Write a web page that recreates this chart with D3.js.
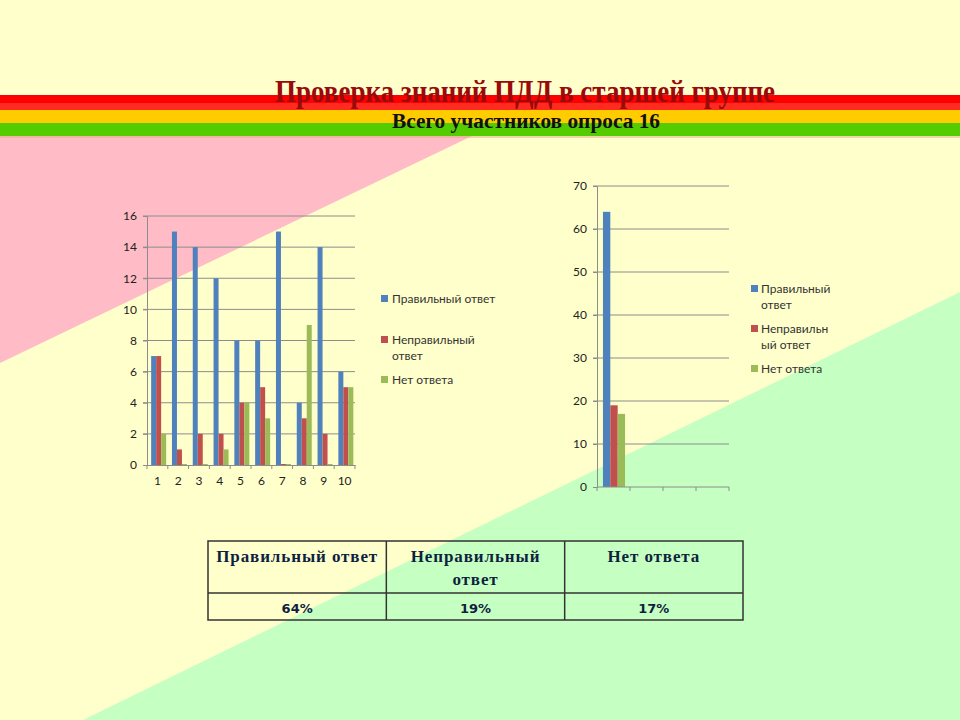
<!DOCTYPE html>
<html lang="ru">
  <head>
    <meta charset="utf-8" />
    <title>Проверка знаний ПДД в старшей группе</title>
    <style>
      body { margin: 0; }
      svg { display: block; }
    </style>
  </head>
  <body>
    <div id="slide"></div>

    <script src="https://d3js.org/d3.v7.min.js"></script>
    <script>
      // data
      const categories = ["1", "2", "3", "4", "5", "6", "7", "8", "9", "10"];
      const seriesNames = ["Правильный ответ", "Неправильный ответ", "Нет ответа"];
      const correct = [7, 15, 14, 12, 8, 8, 15, 4, 14, 6];
      const wrong = [7, 1, 2, 2, 4, 5, 0, 3, 2, 5];
      const noAnswer = [2, 0, 0, 1, 4, 3, 0, 9, 0, 5];
      const leftTicks = [0, 2, 4, 6, 8, 10, 12, 14, 16];

      const totalCategories = ["1", "2", "3", "4"];
      const totalValues = [64, 19, 17];
      const rightTicks = [0, 10, 20, 30, 40, 50, 60, 70];

      const tableHeader = [["Правильный ответ"], ["Неправильный", "ответ"], ["Нет ответа"]];
      const tablePercents = ["64%", "19%", "17%"];

      const colors = ["#4F81BD", "#C0504D", "#9BBB59"];

      const width = 960, height = 720;
      const svg = d3.select("#slide").append("svg")
        .attr("width", width).attr("height", height);

      // background
      svg.append("rect").attr("width", width).attr("height", height).attr("fill", "#FFFFCC");
      svg.append("polygon").attr("points", "0,136 472,136 0,363").attr("fill", "#FFBBC6");
      svg.append("polygon").attr("points", "960,292 960,720 83,720").attr("fill", "#C6FFC2");

      // stripes
      const stripes = [
        [95, 8, "#FF0000"], [103, 7, "#FF2A20"], [110, 13, "#FFCC00"], [123, 13, "#55CC00"]
      ];
      svg.selectAll("rect.stripe").data(stripes).enter().append("rect")
        .attr("class", "stripe")
        .attr("x", 0).attr("y", d => d[0]).attr("width", width).attr("height", d => d[1])
        .attr("fill", d => d[2]);
      svg.append("rect").attr("x", 0).attr("y", 136).attr("width", width).attr("height", 2)
        .attr("fill", "#E0B080").attr("opacity", 0.5);

      // titles (condensed serif, squeezed to the width seen in the picture)
      svg.append("text")
        .attr("x", 275).attr("y", 102)
        .attr("textLength", 500).attr("lengthAdjust", "spacingAndGlyphs")
        .attr("font-family", "Liberation Serif").attr("font-size", 31).attr("font-weight", "bold")
        .attr("fill", "#9A0A0A")
        .text("Проверка знаний ПДД в старшей группе");
      svg.append("text")
        .attr("x", 392).attr("y", 128)
        .attr("textLength", 268).attr("lengthAdjust", "spacingAndGlyphs")
        .attr("font-family", "Liberation Serif").attr("font-size", 20).attr("font-weight", "bold")
        .attr("fill", "#111")
        .text("Всего участников опроса 16");

      const gridColor = "#8C8C8C";
      const labelFont = "Lato";

      // ---------- left chart ----------
      const left = { x0: 147, x1: 355, y0: 465, y1: 216 };
      const xL = d3.scaleBand().domain(categories).range([left.x0, left.x1]);
      const xLSub = d3.scaleBand().domain(seriesNames)
        .range([xL.bandwidth() * 0.2, xL.bandwidth() * 0.92]);
      const yL = d3.scaleLinear().domain([0, 16]).range([left.y0, left.y1]);

      const gL = svg.append("g");
      gL.selectAll("line.grid").data(leftTicks.slice(1)).enter().append("line")
        .attr("x1", left.x0 - 4).attr("x2", left.x1)
        .attr("y1", d => yL(d)).attr("y2", d => yL(d))
        .attr("stroke", gridColor).attr("stroke-width", 1);

      const leftSeries = [correct, wrong, noAnswer];
      leftSeries.forEach((vals, s) => {
        gL.selectAll("rect.s" + s).data(vals).enter().append("rect")
          .attr("class", "s" + s)
          .attr("x", (d, i) => xL(categories[i]) + xLSub(seriesNames[s]))
          .attr("width", xLSub.bandwidth())
          .attr("y", d => yL(d) - (d === 0 ? 1 : 0))
          .attr("height", d => left.y0 - yL(d) + (d === 0 ? 1 : 0))
          .attr("fill", colors[s]);
      });

      gL.append("g")
        .attr("transform", `translate(${left.x0},0)`)
        .call(d3.axisLeft(yL).tickValues(leftTicks).tickSize(4).tickPadding(6))
        .call(g => g.select(".domain").attr("stroke", gridColor))
        .call(g => g.selectAll(".tick line").attr("stroke", gridColor))
        .call(g => g.selectAll("text").attr("font-family", labelFont).attr("font-size", 12).attr("fill", "#222"));

      gL.append("g")
        .attr("transform", `translate(0,${left.y0})`)
        .call(d3.axisBottom(xL).tickSize(0).tickPadding(11))
        .call(g => g.select(".domain").attr("stroke", gridColor))
        .call(g => g.selectAll("text").attr("font-family", labelFont).attr("font-size", 12).attr("fill", "#222"));
      gL.selectAll("line.xtick").data(categories).enter().append("line")
        .attr("x1", d => xL(d)).attr("x2", d => xL(d))
        .attr("y1", left.y0).attr("y2", left.y0 + 4)
        .attr("stroke", gridColor);
      gL.append("line").attr("x1", left.x1).attr("x2", left.x1)
        .attr("y1", left.y0).attr("y2", left.y0 + 4).attr("stroke", gridColor);

      // legend left
      const legendL = [
        { lines: ["Правильный ответ"], y: 299 },
        { lines: ["Неправильный", "ответ"], y: 340 },
        { lines: ["Нет ответа"], y: 380 }
      ];
      legendL.forEach((d, i) => {
        svg.append("rect").attr("x", 381).attr("y", d.y - 4).attr("width", 7).attr("height", 7)
          .attr("fill", colors[i]);
        d.lines.forEach((t, j) => {
          svg.append("text").attr("x", 392).attr("y", d.y + 4 + j * 16)
            .attr("font-family", labelFont).attr("font-size", 12).attr("fill", "#333")
            .text(t);
        });
      });

      // ---------- right chart ----------
      const right = { x0: 597, x1: 729, y0: 487, y1: 186 };
      const xR = d3.scaleBand().domain(totalCategories).range([right.x0, right.x1]);
      const xRSub = d3.scaleBand().domain(seriesNames)
        .range([xR.bandwidth() * 0.18, xR.bandwidth() * 0.85]);
      const yR = d3.scaleLinear().domain([0, 70]).range([right.y0, right.y1]);

      const gR = svg.append("g");
      gR.selectAll("line.grid").data(rightTicks.slice(1)).enter().append("line")
        .attr("x1", right.x0 - 4).attr("x2", right.x1)
        .attr("y1", d => yR(d)).attr("y2", d => yR(d))
        .attr("stroke", gridColor);

      gR.selectAll("rect.total").data(totalValues).enter().append("rect")
        .attr("class", "total")
        .attr("x", (d, i) => xR(totalCategories[0]) + xRSub(seriesNames[i]))
        .attr("width", xRSub.bandwidth())
        .attr("y", d => yR(d))
        .attr("height", d => right.y0 - yR(d))
        .attr("fill", (d, i) => colors[i]);

      gR.append("g")
        .attr("transform", `translate(${right.x0},0)`)
        .call(d3.axisLeft(yR).tickValues(rightTicks).tickSize(4).tickPadding(6))
        .call(g => g.select(".domain").attr("stroke", gridColor))
        .call(g => g.selectAll(".tick line").attr("stroke", gridColor))
        .call(g => g.selectAll("text").attr("font-family", labelFont).attr("font-size", 12).attr("fill", "#222"));

      gR.append("line").attr("x1", right.x0).attr("x2", right.x1)
        .attr("y1", right.y0).attr("y2", right.y0).attr("stroke", gridColor);
      gR.selectAll("line.xtick").data(totalCategories.concat(["end"])).enter().append("line")
        .attr("x1", d => d === "end" ? right.x1 : xR(d))
        .attr("x2", d => d === "end" ? right.x1 : xR(d))
        .attr("y1", right.y0).attr("y2", right.y0 + 4)
        .attr("stroke", gridColor);

      // legend right
      const legendR = [
        { lines: ["Правильный", "ответ"], y: 289 },
        { lines: ["Неправильн", "ый ответ"], y: 329 },
        { lines: ["Нет ответа"], y: 369 }
      ];
      legendR.forEach((d, i) => {
        svg.append("rect").attr("x", 751).attr("y", d.y - 4).attr("width", 7).attr("height", 7)
          .attr("fill", colors[i]);
        d.lines.forEach((t, j) => {
          svg.append("text").attr("x", 761).attr("y", d.y + 4 + j * 16)
            .attr("font-family", labelFont).attr("font-size", 12).attr("fill", "#333")
            .text(t);
        });
      });

      // ---------- table ----------
      const tX = d3.scaleBand().domain(d3.range(3)).range([208, 743]);
      const tTop = 541, tMid = 593, tBottom = 620;
      const gT = svg.append("g");
      gT.append("rect").attr("x", 208).attr("y", tTop).attr("width", 535).attr("height", tBottom - tTop)
        .attr("fill", "none").attr("stroke", "#333").attr("stroke-width", 1.5);
      gT.append("line").attr("x1", 208).attr("x2", 743).attr("y1", tMid).attr("y2", tMid)
        .attr("stroke", "#333").attr("stroke-width", 1.5);
      gT.selectAll("line.col").data([1, 2]).enter().append("line")
        .attr("x1", d => tX(d)).attr("x2", d => tX(d))
        .attr("y1", tTop).attr("y2", tBottom)
        .attr("stroke", "#333").attr("stroke-width", 1.5);

      tableHeader.forEach((lines, i) => {
        lines.forEach((t, j) => {
          gT.append("text")
            .attr("x", tX(i) + tX.bandwidth() / 2).attr("y", tTop + 21 + j * 23)
            .attr("text-anchor", "middle")
            .attr("font-family", "Liberation Serif").attr("font-size", 17).attr("font-weight", "bold")
            .attr("letter-spacing", 0.9)
            .attr("fill", "#0F1F3F")
            .text(t);
        });
      });
      gT.selectAll("text.pct").data(tablePercents).enter().append("text")
        .attr("class", "pct")
        .attr("x", (d, i) => tX(i) + tX.bandwidth() / 2).attr("y", tBottom - 7)
        .attr("text-anchor", "middle")
        .attr("font-family", "DejaVu Sans").attr("font-size", 13).attr("font-weight", "bold")
        .attr("fill", "#0F1F3F")
        .text(d => d);
    </script>
  </body>
</html>
